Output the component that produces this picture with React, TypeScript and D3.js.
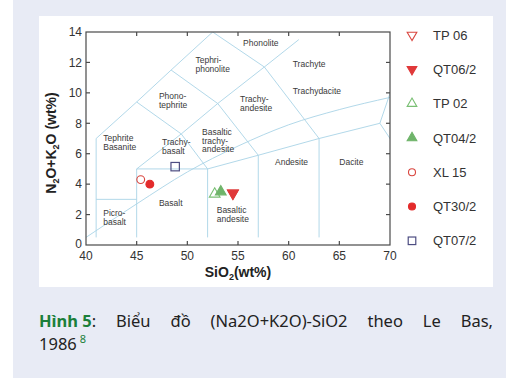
import React, { useEffect, useRef } from 'react';
import * as d3 from 'd3';

// axis ticks
const xTicks = [40, 45, 50, 55, 60, 65, 70];
const yTicks = [0, 2, 4, 6, 8, 10, 12, 14];

// samples (SiO2, Na2O+K2O)
const sampleNames = ['TP 06', 'QT06/2', 'TP 02', 'QT04/2', 'XL 15', 'QT30/2', 'QT07/2'];
const sampleSiO2 = [54.5, 54.5, 52.7, 53.3, 45.4, 46.3, 48.8];
const sampleAlkali = [3.4, 3.4, 3.35, 3.5, 4.3, 4.0, 5.15];

// TAS field boundaries (Le Bas 1986)
const boundaries: [number, number][][] = [
  [[41, 0.5], [41, 7], [45, 9.4], [48.4, 11.5], [52.5, 14]],
  [[41, 3], [45, 3]],
  [[45, 0.5], [45, 5], [49.4, 7.3], [53, 9.3], [57.6, 11.7], [61, 13.5]],
  [[45, 5], [52, 5], [57, 5.9], [63, 7], [69, 8], [77, 0]],
  [[52, 0.5], [52, 5]],
  [[57, 0.5], [57, 5.9]],
  [[63, 0.5], [63, 7]],
  [[69, 8], [71.8, 13.5]],
  [[45, 9.4], [49.4, 7.3], [52, 5]],
  [[48.4, 11.5], [53, 9.3], [57, 5.9]],
  [[52.5, 14], [57.6, 11.7], [63, 7]],
];

// alkaline / subalkaline divide
const alkSiO2 = [40, 45, 50, 55, 60, 65, 70];
const alkTotal = [0.5, 2.7, 4.8, 6.5, 7.9, 8.9, 9.7];

// field names, anchored at (SiO2, alkali) of first line
const fieldNames = [
  ['Phonolite'], ['Tephri-', 'phonolite'], ['Phono-', 'tephrite'], ['Trachyte'],
  ['Trachydacite'], ['Trachy-', 'andesite'], ['Basaltic', 'trachy-', 'andesite'],
  ['Tephrite', 'Basanite'], ['Trachy-', 'basalt'], ['Andesite'], ['Dacite'],
  ['Basalt'], ['Picro-', 'basalt'], ['Basaltic', 'andesite'],
];
const fieldSiO2 = [55.5, 50.8, 47.2, 60.4, 60.4, 55.2, 51.45, 41.7, 47.5, 58.65, 65.0, 47.2, 41.7, 52.9];
const fieldAlkali = [13.3, 12.15, 9.8, 11.9, 10.1, 9.6, 7.43, 7.04, 6.78, 5.46, 5.46, 2.76, 2.1, 2.3];

type Mk = { shape: 'down' | 'up' | 'circle' | 'square'; fill: string; stroke: string };
const markers: Mk[] = [
  { shape: 'down', fill: 'none', stroke: '#d9463f' },
  { shape: 'down', fill: '#e0393a', stroke: '#e0393a' },
  { shape: 'up', fill: 'none', stroke: '#79bf73' },
  { shape: 'up', fill: '#6fb46a', stroke: '#6fb46a' },
  { shape: 'circle', fill: 'none', stroke: '#d9463f' },
  { shape: 'circle', fill: '#e32b2b', stroke: '#e32b2b' },
  { shape: 'square', fill: 'none', stroke: '#4d4d82' },
];

const captionLine1: { t: string; bold?: boolean; green?: boolean }[][] = [
  [{ t: 'Hình 5', bold: true, green: true }, { t: ':' }],
  [{ t: 'Biểu' }], [{ t: 'đồ' }], [{ t: '(Na2O+K2O)-SiO2' }],
  [{ t: 'theo' }], [{ t: 'Le' }], [{ t: 'Bas,' }],
];

const GREEN = '#1b7f3a';
const LINE = '#a9d4e6';

function drawMarker(g: any, m: Mk, cx: number, cy: number, scale: number) {
  if (m.shape === 'circle') {
    g.append('circle').attr('cx', cx).attr('cy', cy).attr('r', 3.9 * scale)
      .attr('fill', m.fill).attr('stroke', m.stroke).attr('stroke-width', 1.1);
  } else if (m.shape === 'square') {
    const s = 8.4 * scale;
    g.append('rect').attr('x', cx - s / 2).attr('y', cy - s / 2).attr('width', s).attr('height', s)
      .attr('fill', m.fill).attr('stroke', m.stroke).attr('stroke-width', 1.2);
  } else {
    const sym = d3.symbol().type(d3.symbolTriangle).size(50 * scale * scale);
    g.append('path').attr('d', sym() as string)
      .attr('transform', `translate(${cx},${cy}) rotate(${m.shape === 'down' ? 180 : 0})`)
      .attr('fill', m.fill).attr('stroke', m.stroke).attr('stroke-width', 1.1);
  }
}

function TasChart() {
  const ref = useRef<SVGSVGElement>(null);

  useEffect(() => {
    const svg = d3.select(ref.current);
    svg.selectAll('*').remove();

    svg.append('rect').attr('x', 13).attr('y', 0).attr('width', 493).attr('height', 378).attr('fill', '#e8ebf5');
    svg.append('rect').attr('x', 39).attr('y', 16).attr('width', 454).attr('height', 271).attr('fill', '#ffffff');

    const x = d3.scaleLinear().domain([40, 70]).range([86, 390]);
    const y = d3.scaleLinear().domain([0, 14]).range([245, 32]);
    const font = '"Liberation Sans", Arial, sans-serif';

    svg.append('clipPath').attr('id', 'plotclip').append('rect')
      .attr('x', 86).attr('y', 32).attr('width', 304).attr('height', 213);

    const plot = svg.append('g').attr('clip-path', 'url(#plotclip)');
    const line = d3.line<[number, number]>().x(d => x(d[0])).y(d => y(d[1]));
    boundaries.forEach(b => {
      plot.append('path').attr('d', line(b)).attr('fill', 'none').attr('stroke', LINE).attr('stroke-width', 0.9);
    });
    const alk = d3.line<number>().x(d => x(d)).y((d, i) => y(alkTotal[i])).curve(d3.curveMonotoneX);
    plot.append('path').attr('d', alk(alkSiO2)).attr('fill', 'none').attr('stroke', LINE).attr('stroke-width', 0.9);

    // field names
    fieldNames.forEach((lines, i) => {
      const t = svg.append('text').attr('font-family', font).attr('font-size', 8.5).attr('fill', '#3a3a3a');
      lines.forEach((s, j) => {
        t.append('tspan').attr('x', x(fieldSiO2[i])).attr('y', y(fieldAlkali[i]) + 3 + j * 8.7).text(s);
      });
    });

    // frame + ticks
    const ax = svg.append('g').attr('stroke', '#4a4a4a').attr('stroke-width', 1.2);
    ax.append('rect').attr('x', 86).attr('y', 32).attr('width', 304).attr('height', 213).attr('fill', 'none');
    xTicks.slice(1, -1).forEach(v => {
      ax.append('line').attr('x1', x(v)).attr('x2', x(v)).attr('y1', 245).attr('y2', 241);
      ax.append('line').attr('x1', x(v)).attr('x2', x(v)).attr('y1', 32).attr('y2', 36);
    });
    yTicks.slice(1, -1).forEach(v => {
      ax.append('line').attr('x1', 86).attr('x2', 90).attr('y1', y(v)).attr('y2', y(v));
      ax.append('line').attr('x1', 390).attr('x2', 386).attr('y1', y(v)).attr('y2', y(v));
    });

    xTicks.forEach(v => {
      svg.append('text').attr('x', x(v)).attr('y', 259.5).attr('text-anchor', 'middle')
        .attr('font-family', font).attr('font-size', 12).attr('fill', '#333').text(v);
    });
    yTicks.forEach(v => {
      svg.append('text').attr('x', 82).attr('y', y(v) + (v === 0 ? 3 : 4.3)).attr('text-anchor', 'end')
        .attr('font-family', font).attr('font-size', 12).attr('fill', '#333').text(v);
    });

    // axis titles
    const xt = svg.append('text').attr('x', 238).attr('y', 277).attr('text-anchor', 'middle')
      .attr('font-family', font).attr('font-size', 14).attr('font-weight', 'bold').attr('fill', '#222');
    xt.append('tspan').text('SiO');
    xt.append('tspan').attr('font-size', 9).attr('dy', 3).text('2');
    xt.append('tspan').attr('dy', -3).text('(wt%)');

    const yt = svg.append('text').attr('transform', 'translate(56,143) rotate(-90)').attr('text-anchor', 'middle')
      .attr('font-family', font).attr('font-size', 14).attr('font-weight', 'bold').attr('fill', '#222');
    yt.append('tspan').text('N');
    yt.append('tspan').attr('font-size', 9).attr('dy', 3).text('2');
    yt.append('tspan').attr('dy', -3).text('O+K');
    yt.append('tspan').attr('font-size', 9).attr('dy', 3).text('2');
    yt.append('tspan').attr('dy', -3).text('O (wt%)');

    // samples
    const pts = svg.append('g');
    sampleNames.forEach((_, i) => drawMarker(pts, markers[i], x(sampleSiO2[i]), y(sampleAlkali[i]), 1));

    // legend
    const lg = svg.append('g');
    sampleNames.forEach((name, i) => {
      const cy = 35 + i * 34.3;
      drawMarker(lg, markers[i], 412, cy, 0.9);
      lg.append('text').attr('x', 433).attr('y', cy + 4.6).attr('font-family', font).attr('font-size', 13)
        .attr('fill', '#333').text(name);
    });

    // caption, justified first line
    const cfont = '"Noto Sans", "Open Sans", sans-serif';
    const words = captionLine1.map(parts => {
      const t = svg.append('text').attr('y', 327).attr('font-family', cfont).attr('font-size', 16.5).attr('fill', '#222');
      parts.forEach(p => {
        t.append('tspan').attr('font-weight', p.bold ? 'bold' : 'normal').attr('fill', p.green ? GREEN : '#222').text(p.t);
      });
      return t;
    });
    const widths = words.map(w => (w.node() as SVGTextElement).getComputedTextLength());
    const gap = (454 - d3.sum(widths)) / (words.length - 1);
    let cx = 39;
    words.forEach((w, i) => { w.attr('x', cx); cx += widths[i] + gap; });

    const l2 = svg.append('text').attr('x', 39).attr('y', 350).attr('font-family', cfont).attr('font-size', 16.5).attr('fill', '#222');
    l2.append('tspan').text('1986');
    l2.append('tspan').attr('dx', 3).attr('dy', -7).attr('font-size', 11).attr('fill', GREEN).text('8');
  }, []);

  return <svg ref={ref} width={520} height={381} style={{ display: 'block' }} />;
}

export default function App() {
  return (
    <div style={{ position: 'absolute', left: 0, top: 0, width: 520, height: 381, background: '#fff' }}>
      <TasChart />
    </div>
  );
}
